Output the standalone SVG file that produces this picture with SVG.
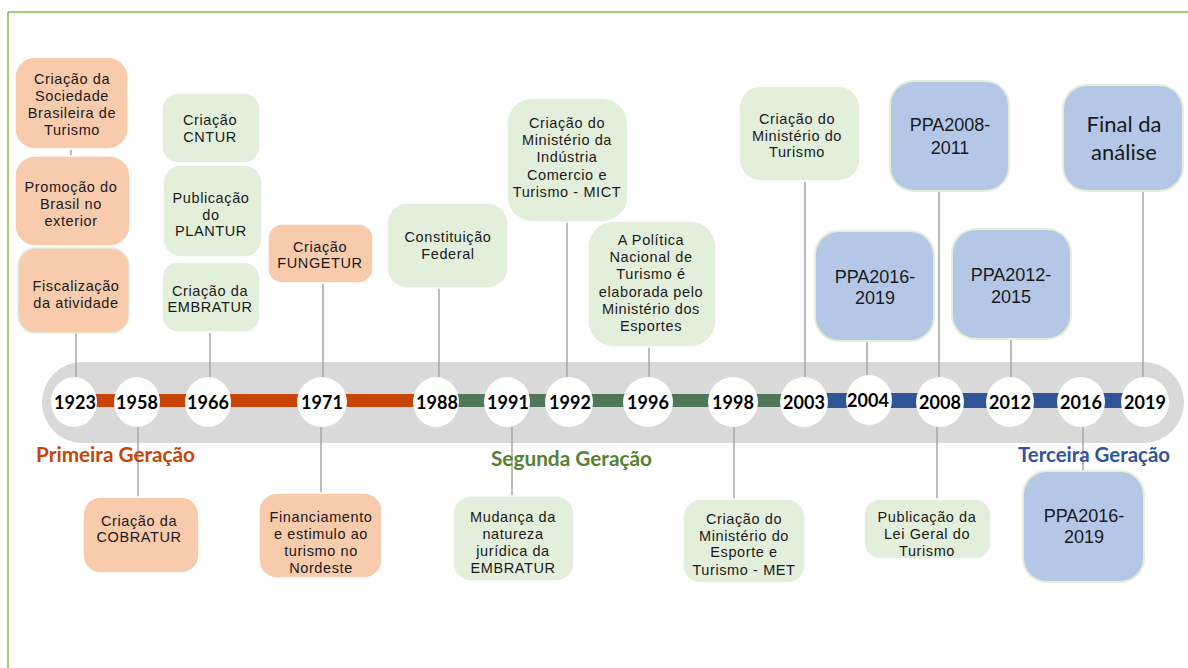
<svg xmlns="http://www.w3.org/2000/svg" width="1188" height="668" viewBox="0 0 1188 668">
<style>
.bx{stroke:#ffffff;stroke-width:1.5}
.or{fill:#f8cbad}
.gr{fill:#e2efda}
.bl{fill:#b4c7e7;stroke:#e2efda;stroke-width:2}
.t{font-family:"Liberation Sans",Arial,sans-serif;font-size:14.5px;letter-spacing:0.6px;fill:#1a1a1a;text-anchor:middle}
.p{font-family:"Liberation Sans",Arial,sans-serif;font-size:18px;fill:#1a1a1a;text-anchor:middle}
.f{font-family:Lato,"Open Sans",sans-serif;font-size:22px;fill:#1a1a1a;text-anchor:middle}
.yr{font-family:Lato,"Open Sans",sans-serif;font-weight:bold;font-size:18px;fill:#000;text-anchor:middle}
.gen{font-family:Lato,"Open Sans",sans-serif;font-weight:bold;font-size:20px}
.c{stroke:#a6a6a6;stroke-width:1.5;fill:none}
.ci{fill:#ffffff}
</style>
<rect width="1188" height="668" fill="#ffffff"/>
<g id="frame">
<line x1="8" y1="12" x2="1188" y2="12" stroke="#7cbf4f" stroke-width="1.5"/>
<line x1="8" y1="12" x2="8" y2="668" stroke="#7cbf4f" stroke-width="1.5"/>
</g>
<g id="band">
<rect x="42" y="362" width="1142" height="81" rx="40.5" fill="#d9d9d9"/>
<rect x="73" y="394" width="363" height="13" fill="#c84407"/>
<rect x="436" y="394" width="368" height="13" fill="#507758"/>
<rect x="804" y="393" width="341" height="15" fill="#2f5597"/>
</g>
<g id="connectors">
<line class="c" x1="76" y1="333" x2="76" y2="377"/>
<line class="c" x1="71" y1="149" x2="71" y2="156"/>
<line class="c" x1="210" y1="332" x2="210" y2="377"/>
<line class="c" x1="323" y1="283" x2="323" y2="377"/>
<line class="c" x1="439" y1="288" x2="439" y2="377"/>
<line class="c" x1="567" y1="222" x2="567" y2="377"/>
<line class="c" x1="649" y1="347" x2="649" y2="377"/>
<line class="c" x1="805" y1="181" x2="805" y2="377"/>
<line class="c" x1="867" y1="341" x2="867" y2="377"/>
<line class="c" x1="939" y1="191" x2="939" y2="377"/>
<line class="c" x1="1011" y1="339" x2="1011" y2="377"/>
<line class="c" x1="1143" y1="191" x2="1143" y2="377"/>
<line class="c" x1="138" y1="427" x2="138" y2="497"/>
<line class="c" x1="321" y1="427" x2="321" y2="493"/>
<line class="c" x1="512" y1="427" x2="512" y2="496"/>
<line class="c" x1="734" y1="427" x2="734" y2="499"/>
<line class="c" x1="937" y1="427" x2="937" y2="499"/>
<line class="c" x1="1083" y1="427" x2="1083" y2="471"/>
</g>
<g id="years">
<ellipse class="ci" cx="74" cy="402" rx="23" ry="25"/><text class="yr" x="75" y="408.5">1923</text>
<ellipse class="ci" cx="137" cy="402" rx="23" ry="25"/><text class="yr" x="137" y="408.5">1958</text>
<ellipse class="ci" cx="208" cy="402" rx="23" ry="25"/><text class="yr" x="208" y="408.5">1966</text>
<ellipse class="ci" cx="322" cy="402" rx="25" ry="25"/><text class="yr" x="322" y="408.5">1971</text>
<ellipse class="ci" cx="436" cy="402" rx="23" ry="25"/><text class="yr" x="437" y="408.5">1988</text>
<ellipse class="ci" cx="507" cy="402" rx="23" ry="25"/><text class="yr" x="508" y="408.5">1991</text>
<ellipse class="ci" cx="569" cy="402" rx="24" ry="25"/><text class="yr" x="570" y="408.5">1992</text>
<ellipse class="ci" cx="648" cy="402" rx="25" ry="25"/><text class="yr" x="648" y="408.5">1996</text>
<ellipse class="ci" cx="733" cy="402" rx="25" ry="25"/><text class="yr" x="733" y="408.5">1998</text>
<ellipse class="ci" cx="804" cy="402" rx="24" ry="25"/><text class="yr" x="804" y="408.5">2003</text>
<ellipse class="ci" cx="869" cy="400" rx="23" ry="25"/><text class="yr" x="868" y="406.5">2004</text>
<ellipse class="ci" cx="940" cy="402" rx="24" ry="25"/><text class="yr" x="940" y="408.5">2008</text>
<ellipse class="ci" cx="1010" cy="402" rx="24" ry="25"/><text class="yr" x="1010" y="408.5">2012</text>
<ellipse class="ci" cx="1081" cy="402" rx="24" ry="25"/><text class="yr" x="1081" y="408.5">2016</text>
<ellipse class="ci" cx="1145" cy="402" rx="24" ry="25"/><text class="yr" x="1145" y="408.5">2019</text>
</g>
<g id="generations">
<text class="gen" x="36" y="462" fill="#c84407" textLength="159" lengthAdjust="spacingAndGlyphs">Primeira Geração</text>
<text class="gen" x="491" y="466" fill="#548235" textLength="161" lengthAdjust="spacingAndGlyphs">Segunda Geração</text>
<text class="gen" x="1018" y="462" fill="#2f5597" textLength="152" lengthAdjust="spacingAndGlyphs">Terceira Geração</text>
</g>
<g id="n1923a"><rect class="bx or" x="15" y="57" width="113" height="92" rx="20"/>
<text class="t" x="72"><tspan x="72" y="84">Criação da</tspan><tspan x="72" y="101">Sociedade</tspan><tspan x="72" y="118">Brasileira de</tspan><tspan x="72" y="135">Turismo</tspan></text></g>
<g id="n1923b"><rect class="bx or" x="15" y="156" width="115" height="90" rx="20"/>
<text class="t" x="71"><tspan x="71" y="192">Promoção do</tspan><tspan x="71" y="209">Brasil no</tspan><tspan x="71" y="226">exterior</tspan></text></g>
<g id="n1923c"><rect class="or" x="18" y="248" width="111" height="85" rx="18" stroke="#e2efda" stroke-width="1.5"/>
<text class="t" x="76"><tspan x="76" y="291">Fiscalização</tspan><tspan x="76" y="308">da atividade</tspan></text></g>
<g id="n1966a"><rect class="bx gr" x="162" y="93" width="98" height="70" rx="16"/>
<text class="t" x="210"><tspan x="210" y="125">Criação</tspan><tspan x="210" y="142">CNTUR</tspan></text></g>
<g id="n1966b"><rect class="bx gr" x="163" y="165" width="99" height="92" rx="18"/>
<text class="t" x="211"><tspan x="211" y="203">Publicação</tspan><tspan x="211" y="220">do</tspan><tspan x="211" y="236">PLANTUR</tspan></text></g>
<g id="n1966c"><rect class="bx gr" x="162" y="262" width="98" height="70" rx="16"/>
<text class="t" x="210"><tspan x="210" y="296">Criação da</tspan><tspan x="210" y="312">EMBRATUR</tspan></text></g>
<g id="n1971a"><rect class="bx or" x="268" y="224" width="105" height="59" rx="14"/>
<text class="t" x="320"><tspan x="320" y="252">Criação</tspan><tspan x="320" y="268">FUNGETUR</tspan></text></g>
<g id="n1988"><rect class="bx gr" x="387" y="203" width="121" height="85" rx="20"/>
<text class="t" x="448"><tspan x="448" y="242">Constituição</tspan><tspan x="448" y="259">Federal</tspan></text></g>
<g id="n1992"><rect class="bx gr" x="507" y="98" width="121" height="124" rx="26"/>
<text class="t" x="567"><tspan x="567" y="128">Criação do</tspan><tspan x="567" y="145">Ministério da</tspan><tspan x="567" y="162">Indústria</tspan><tspan x="567" y="180">Comercio e</tspan><tspan x="567" y="197">Turismo - MICT</tspan></text></g>
<g id="n1996"><rect class="bx gr" x="588" y="221" width="128" height="126" rx="26"/>
<text class="t" x="651"><tspan x="651" y="245">A Política</tspan><tspan x="651" y="262">Nacional de</tspan><tspan x="651" y="279">Turismo é</tspan><tspan x="651" y="297">elaborada pelo</tspan><tspan x="651" y="314">Ministério dos</tspan><tspan x="651" y="331">Esportes</tspan></text></g>
<g id="n2003"><rect class="bx gr" x="739" y="86" width="121" height="95" rx="22"/>
<text class="t" x="797"><tspan x="797" y="124">Criação do</tspan><tspan x="797" y="141">Ministério do</tspan><tspan x="797" y="157">Turismo</tspan></text></g>
<g id="n2004"><rect class="bl" x="815" y="231" width="119" height="110" rx="24"/>
<text class="p" x="875"><tspan x="875" y="282.5">PPA2016-</tspan><tspan x="875" y="303.5">2019</tspan></text></g>
<g id="n2008a"><rect class="bl" x="890" y="81" width="119" height="110" rx="24"/>
<text class="p" x="950"><tspan x="950" y="130.5">PPA2008-</tspan><tspan x="950" y="153.5">2011</tspan></text></g>
<g id="n2012"><rect class="bl" x="952" y="229" width="119" height="110" rx="24"/>
<text class="p" x="1011"><tspan x="1011" y="280.5">PPA2012-</tspan><tspan x="1011" y="302.5">2015</tspan></text></g>
<g id="n2019"><rect class="bl" x="1063" y="85" width="120" height="106" rx="24"/>
<text class="f" x="1124"><tspan x="1124" y="132">Final da</tspan><tspan x="1124" y="160">análise</tspan></text></g>
<g id="n1958"><rect class="bx or" x="83" y="497" width="116" height="76" rx="18"/>
<text class="t" x="139"><tspan x="139" y="526">Criação da</tspan><tspan x="139" y="542">COBRATUR</tspan></text></g>
<g id="n1971b"><rect class="bx or" x="259" y="493" width="123" height="85" rx="18"/>
<text class="t" x="321"><tspan x="321" y="522">Financiamento</tspan><tspan x="321" y="539">e estimulo ao</tspan><tspan x="321" y="556">turismo no</tspan><tspan x="321" y="573">Nordeste</tspan></text></g>
<g id="n1991"><rect class="bx gr" x="453" y="496" width="121" height="85" rx="18"/>
<text class="t" x="513"><tspan x="513" y="522">Mudança da</tspan><tspan x="513" y="539">natureza</tspan><tspan x="513" y="556">jurídica da</tspan><tspan x="513" y="573">EMBRATUR</tspan></text></g>
<g id="n1998"><rect class="bx gr" x="683" y="499" width="122" height="84" rx="18"/>
<text class="t" x="744"><tspan x="744" y="524">Criação do</tspan><tspan x="744" y="541">Ministério do</tspan><tspan x="744" y="557">Esporte e</tspan><tspan x="744" y="575">Turismo - MET</tspan></text></g>
<g id="n2008b"><rect class="bx gr" x="864" y="499" width="127" height="60" rx="16"/>
<text class="t" x="927"><tspan x="927" y="522">Publicação da</tspan><tspan x="927" y="539">Lei Geral do</tspan><tspan x="927" y="556">Turismo</tspan></text></g>
<g id="n2016"><rect class="bl" x="1023" y="471" width="121" height="111" rx="24"/>
<text class="p" x="1084"><tspan x="1084" y="521.5">PPA2016-</tspan><tspan x="1084" y="542.5">2019</tspan></text></g>
</svg>
